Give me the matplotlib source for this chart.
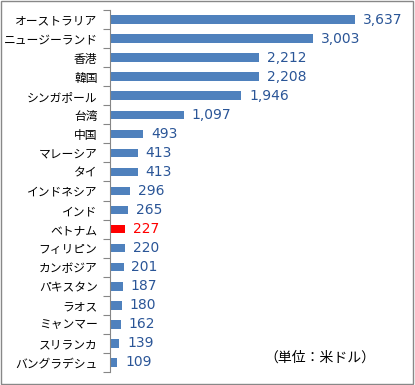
"""Horizontal bar chart of monthly wages by country (JP labels)"""
import matplotlib
matplotlib.use('Agg')
import matplotlib.pyplot as plt
from matplotlib.patches import Rectangle

plt.rcParams['font.family'] = ['Noto Sans CJK JP', 'DejaVu Sans']

COUNTRIES = ['オーストラリア', 'ニュージーランド', '香港', '韓国', 'シンガポール',
             '台湾', '中国', 'マレーシア', 'タイ', 'インドネシア', 'インド',
             'ベトナム', 'フィリピン', 'カンボジア', 'パキスタン', 'ラオス',
             'ミャンマー', 'スリランカ', 'バングラデシュ']
VALUES = [3637, 3003, 2212, 2208, 1946, 1097, 493, 413, 413, 296, 265,
          227, 220, 201, 187, 180, 162, 139, 109]
HIGHLIGHT = 'ベトナム'

BLUE = '#4F81BD'
RED = '#FF0000'
LABEL_BLUE = '#2A5597'

fig = plt.figure(figsize=(4.15, 3.85), dpi=100)
ax = fig.add_axes([110 / 415, 1 - 372 / 385, 270 / 415, 362 / 385])

n = len(COUNTRIES)
ypos = list(range(n))
colors = [RED if c == HIGHLIGHT else BLUE for c in COUNTRIES]
ax.barh(ypos, VALUES, height=0.45, color=colors)

for y, v, c in zip(ypos, VALUES, COUNTRIES):
    col = RED if c == HIGHLIGHT else LABEL_BLUE
    ax.text(v + 115, y, f'{v:,}', va='center', ha='left', fontsize=10,
            color=col, family=['DejaVu Sans'])

ax.set_xlim(0, 4000)
ax.set_ylim(n - 0.5, -0.5)
ax.set_yticks(ypos)
ax.set_yticklabels(COUNTRIES, fontsize=8.5)
ax.set_yticks([i - 0.5 for i in range(n + 1)], minor=True)
ax.tick_params(axis='y', which='major', length=0, pad=9)
ax.tick_params(axis='y', which='minor', length=5, color='#868686', width=0.8)
ax.set_xticks([])
for side in ['top', 'right', 'bottom']:
    ax.spines[side].set_visible(False)
ax.spines['left'].set_color('#868686')
ax.spines['left'].set_linewidth(0.8)

fig.text(264 / 415, 1 - 358 / 385, '（単位：米ドル）', fontsize=10,
         va='center', ha='left')

fig.patches.append(Rectangle((0.002, 0.003), 0.994, 0.994, transform=fig.transFigure,
                             fill=False, edgecolor='#888888', linewidth=1))

fig.savefig('out.png', dpi=100)
